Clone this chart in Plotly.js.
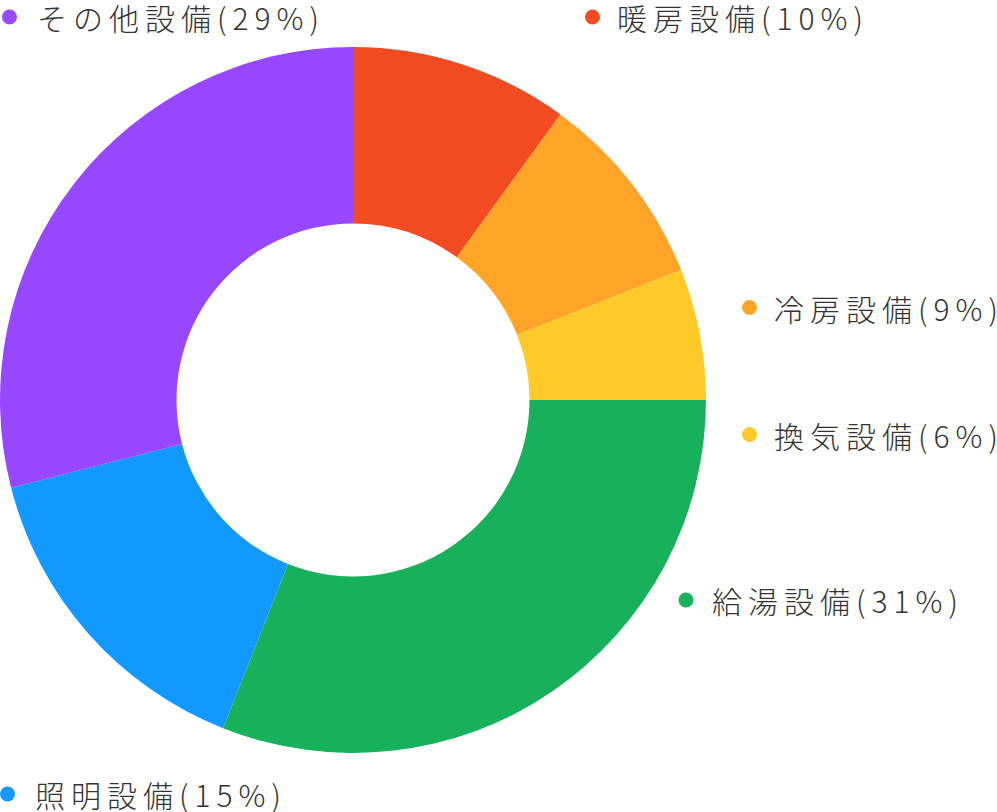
<!DOCTYPE html>
<html><head><meta charset="utf-8">
<script src="https://cdn.plot.ly/plotly-3.0.1.min.js"></script>
<style>html,body{margin:0;padding:0;background:#fff;}#chart{width:997px;height:812px;}</style>
</head><body><div id="chart"></div>
<script>
const categories = ["暖房設備", "冷房設備", "換気設備", "給湯設備", "照明設備", "その他設備"];
const values = [10, 9, 6, 31, 15, 29];
const pctLabels = ["(10%)", "(9%)", "(6%)", "(31%)", "(15%)", "(29%)"];
const colors = ["#F24B22", "#FFA427", "#FFCA28", "#17B05B", "#1199FF", "#9747FF"];
// label anchor positions in px (dot center x, center y, text left x)
const labelPos = [
  [592.5, 17, 615],
  [749.5, 307.5, 772],
  [749.5, 434.5, 772],
  [686, 600, 710],
  [7.5, 794, 33],
  [9.5, 17, 35]
];
const W = 997, H = 812;
const px = x => x / W, py = y => 1 - y / H;

const annotations = [], shapes = [];
const r = 7.5;
categories.forEach((c, i) => {
  const [dx, dy, tx] = labelPos[i];
  shapes.push({type: "circle", xref: "paper", yref: "paper",
    x0: px(dx - r), x1: px(dx + r), y0: py(dy + r), y1: py(dy - r),
    fillcolor: colors[i], line: {width: 0}});
  annotations.push({xref: "paper", yref: "paper", x: px(tx), y: py(dy),
    xanchor: "left", yanchor: "middle", showarrow: false,
    text: '<span style="letter-spacing:6px">' + c + pctLabels[i] + '</span>',
    font: {family: "Noto Sans CJK JP", size: 30, color: "#333333", weight: 300}});
});

const data = [{
  type: "pie", labels: categories, values: values, sort: false,
  direction: "clockwise", rotation: 0, hole: 0.5,
  marker: {colors: colors, line: {width: 0}},
  textinfo: "none", hoverinfo: "label+percent",
  domain: {x: [0, 706 / W], y: [59 / H, 765 / H]}
}];
const layout = {width: W, height: H, margin: {l: 0, r: 0, t: 0, b: 0},
  showlegend: false, paper_bgcolor: "#fff", annotations, shapes};
Plotly.newPlot("chart", data, layout, {staticPlot: true});
</script></body></html>
